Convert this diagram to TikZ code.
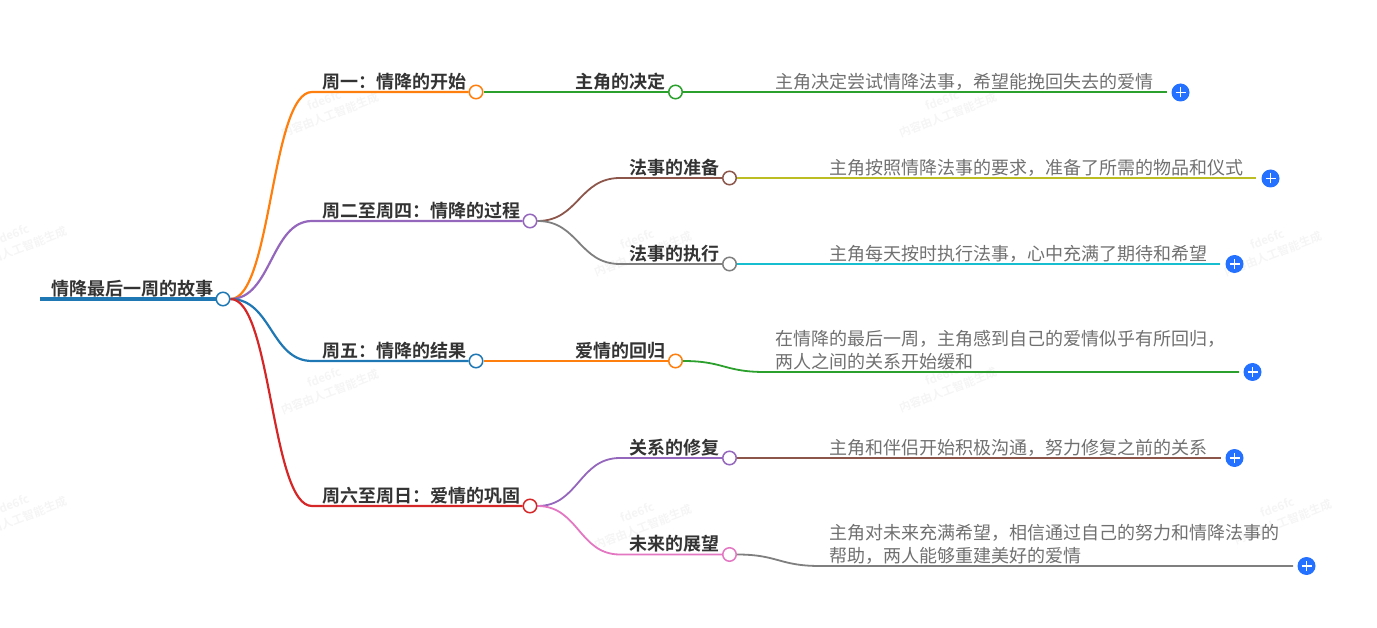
\documentclass[tikz,border=0pt]{standalone}
\usepackage{fontspec}
\usetikzlibrary{calc,backgrounds}
\setmainfont{Noto Sans CJK SC}
\newfontfamily\boldcjk{Noto Sans CJK SC Bold}
\definecolor{cOrange}{HTML}{FF7F0E}
\definecolor{cPurple}{HTML}{9467BD}
\definecolor{cBlue}{HTML}{1F77B4}
\definecolor{cRed}{HTML}{D62728}
\definecolor{cGreen}{HTML}{2CA02C}
\definecolor{cBrown}{HTML}{8C564B}
\definecolor{cGray}{HTML}{7F7F7F}
\definecolor{cOlive}{HTML}{BCBD22}
\definecolor{cCyan}{HTML}{17BECF}
\definecolor{cPink}{HTML}{E377C2}
\definecolor{cBtn}{HTML}{2470FF}
\definecolor{cHead}{HTML}{333333}
\definecolor{cDetail}{HTML}{707070}
\definecolor{cMark}{HTML}{F5F5F5}
\tikzset{
  x=1pt,y=-1pt,
  knob/.style={circle,draw=#1,fill=white,line width=1.5pt,minimum size=13.5pt,inner sep=0pt},
  link/.style={draw=#1,line width=1.8pt},
  trunk/.style={draw=#1,line width=2.2pt},
  head/.style={anchor=west,inner sep=0pt,text=cHead,font=\boldcjk\fontsize{18}{22}\selectfont},
  detail/.style={anchor=west,inner sep=0pt,text=cDetail,align=left,font=\fontsize{18}{23}\selectfont},
  wmark/.style={rotate=21,inner sep=0pt,text=cMark,align=center,font=\boldcjk\fontsize{11.5}{16}\selectfont},
  plusbtn/.style={circle,fill=cBtn,minimum size=18pt,inner sep=0pt,
    path picture={\draw[white,line width=1.8pt]
      ([xshift=-5pt]path picture bounding box.center)--([xshift=5pt]path picture bounding box.center)
      ([yshift=-5pt]path picture bounding box.center)--([yshift=5pt]path picture bounding box.center);}},
}
\newcommand{\wmtext}{fde6fc\\内容由人工智能生成}
\begin{document}
\begin{tikzpicture}
\useasboundingbox (0,0) rectangle (1377,628);
% free ends and junctions
\coordinate (rootstart) at (40,299);
\coordinate (aJ) at (312,92);
\coordinate (bJ) at (312,221);
\coordinate (cJ) at (312,361);
\coordinate (dJ) at (312,506);
\coordinate (b1J) at (620,178);
\coordinate (b2J) at (620,264);
\coordinate (d1J) at (620,458);
\coordinate (d2J) at (620,554.5);
\coordinate (c1J) at (765,372);
\coordinate (d2J2) at (820,566);
\coordinate (e1) at (1167,92);
\coordinate (e2) at (1256,178);
\coordinate (e3) at (1220,264);
\coordinate (e4) at (1239,372);
\coordinate (e5) at (1221,458);
\coordinate (e6) at (1293,566);
% knobs
\node[knob=cBlue] (root) at (223,299) {};
\node[knob=cOrange] (a) at (476,92) {};
\node[knob=cPurple] (b) at (530,221) {};
\node[knob=cBlue] (c) at (476,361) {};
\node[knob=cRed] (d) at (530,506) {};
\node[knob=cGreen] (a1) at (675.5,92) {};
\node[knob=cBrown] (b1) at (729.5,178) {};
\node[knob=cGray] (b2) at (729.5,264) {};
\node[knob=cOrange] (c1) at (675.5,361) {};
\node[knob=cPurple] (d1) at (729.5,458) {};
\node[knob=cPink] (d2) at (729.5,554.5) {};
% plus buttons
\node[plusbtn] (p1) at (1180.5,92.5) {};
\node[plusbtn] (p2) at (1270.5,178.5) {};
\node[plusbtn] (p3) at (1234.5,264) {};
\node[plusbtn] (p4) at (1252.5,372) {};
\node[plusbtn] (p5) at (1234.5,458) {};
\node[plusbtn] (p6) at (1306.5,566) {};
% watermarks and connectors, behind everything
\begin{scope}[on background layer]
\node[wmark] (w1) at (327,108) {\wmtext};
\node[wmark] (w2) at (945,108) {\wmtext};
\node[wmark] (w3) at (15,242) {\wmtext};
\node[wmark] (w4) at (640,247) {\wmtext};
\node[wmark] (w5) at (1270,247) {\wmtext};
\node[wmark] (w6) at (327,385) {\wmtext};
\node[wmark] (w7) at (945,383) {\wmtext};
\node[wmark] (w8) at (15,512) {\wmtext};
\node[wmark] (w9) at (640,520) {\wmtext};
\node[wmark] (w10) at (1280,515) {\wmtext};
\draw[cBlue,line width=4.5pt] (rootstart) -- (root);
\draw[trunk=cOrange] (root.east) .. controls +(41,0) and ($(aJ)+(-41,0)$) .. (aJ) -- (a);
\draw[trunk=cPurple] (root.east) .. controls +(41,0) and ($(bJ)+(-41,0)$) .. (bJ) -- (b);
\draw[trunk=cBlue] (root.east) .. controls +(41,0) and ($(cJ)+(-41,0)$) .. (cJ) -- (c);
\draw[trunk=cRed] (root.east) .. controls +(41,0) and ($(dJ)+(-41,0)$) .. (dJ) -- (d);
\draw[link=cGreen] (a) -- (a1);
\draw[link=cGreen] (a1) -- (e1);
\draw[link=cBrown] (b.east) .. controls +(41,0) and ($(b1J)+(-41,0)$) .. (b1J) -- (b1);
\draw[link=cGray] (b.east) .. controls +(41,0) and ($(b2J)+(-41,0)$) .. (b2J) -- (b2);
\draw[link=cOlive] (b1) -- (e2);
\draw[link=cCyan] (b2) -- (e3);
\draw[link=cOrange] (c) -- (c1);
\draw[link=cGreen] (c1.east) .. controls +(41,0) and ($(c1J)+(-41,0)$) .. (c1J) -- (e4);
\draw[link=cPurple] (d.east) .. controls +(41,0) and ($(d1J)+(-41,0)$) .. (d1J) -- (d1);
\draw[link=cPink] (d.east) .. controls +(41,0) and ($(d2J)+(-41,0)$) .. (d2J) -- (d2);
\draw[link=cBrown] (d1) -- (e5);
\draw[link=cGray] (d2.east) .. controls +(41,0) and ($(d2J2)+(-41,0)$) .. (d2J2) -- (e6);
\end{scope}
% labels
\node[head] (troot) at (51,289) {情降最后一周的故事};
\node[head] (ta) at (322,82) {周一：情降的开始};
\node[head] (tb) at (322,211) {周二至周四：情降的过程};
\node[head] (tc) at (322,351) {周五：情降的结果};
\node[head] (td) at (322,496) {周六至周日：爱情的巩固};
\node[head] (ta1) at (575.5,82) {主角的决定};
\node[head] (tb1) at (629.5,168) {法事的准备};
\node[head] (tb2) at (629.5,254) {法事的执行};
\node[head] (tc1) at (575.5,351) {爱情的回归};
\node[head] (td1) at (629.5,448) {关系的修复};
\node[head] (td2) at (629.5,544) {未来的展望};
\node[detail] (xa) at (775,82) {主角决定尝试情降法事，希望能挽回失去的爱情};
\node[detail] (xb1) at (829,168) {主角按照情降法事的要求，准备了所需的物品和仪式};
\node[detail] (xb2) at (829,254) {主角每天按时执行法事，心中充满了期待和希望};
\node[detail] (xc) at (775,350.5) {在情降的最后一周，主角感到自己的爱情似乎有所回归，\\两人之间的关系开始缓和};
\node[detail] (xd1) at (829,448) {主角和伴侣开始积极沟通，努力修复之前的关系};
\node[detail] (xd2) at (829,544.5) {主角对未来充满希望，相信通过自己的努力和情降法事的\\帮助，两人能够重建美好的爱情};
\end{tikzpicture}
\end{document}
